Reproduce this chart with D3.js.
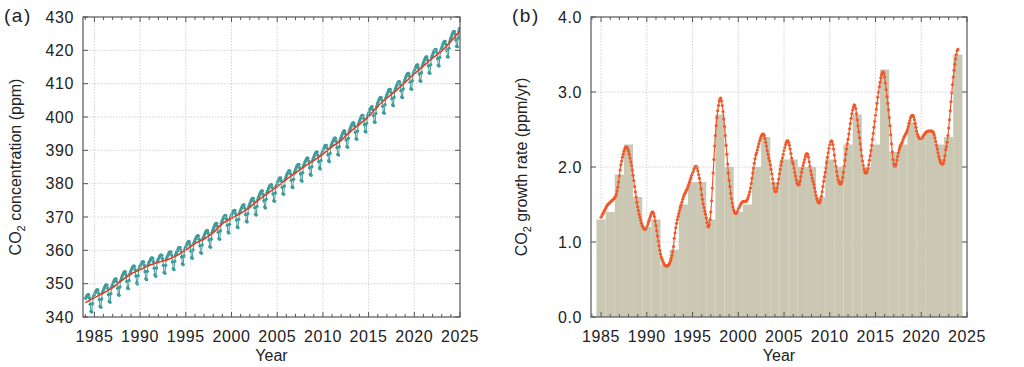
<!DOCTYPE html>
<html><head><meta charset="utf-8">
<script src="https://cdn.jsdelivr.net/npm/d3@7"></script>
<style>
body{margin:0;background:#fff}
svg{display:block}
text{font-family:"Liberation Sans",Arial,Helvetica,sans-serif;fill:#222}
</style>
</head><body>
<svg id="chart" width="1024" height="367"></svg>
<script>
// ---------------- DATA ----------------
// (a) monthly CO2 concentration (ppm), one row per year, Jan..Dec, starting 1984
const concStartYear = 1984;
const concRows = [
[345.6,346.1,346.5,346.7,346.7,345.7,343.8,341.7,341.5,344.0,345.9,346.5],
[347.1,347.6,348.0,348.2,348.1,347.1,345.2,343.2,342.9,345.4,347.3,347.9],
[348.5,349.0,349.4,349.7,349.6,348.6,346.7,344.7,344.4,347.0,348.9,349.5],
[350.1,350.7,351.2,351.4,351.4,350.5,348.6,346.7,346.5,349.0,351.0,351.7],
[352.3,352.8,353.3,353.6,353.5,352.6,350.7,348.7,348.5,351.0,353.0,353.6],
[354.2,354.7,355.1,355.3,355.2,354.2,352.3,350.2,349.9,352.4,354.3,355.0],
[355.5,356.0,356.4,356.6,356.5,355.5,353.6,351.5,351.2,353.7,355.6,356.3],
[356.7,357.2,357.6,357.8,357.6,356.6,354.6,352.6,352.2,354.7,356.6,357.2],
[357.6,358.1,358.5,358.6,358.5,357.5,355.5,353.4,353.1,355.5,357.4,358.0],
[358.5,359.0,359.4,359.6,359.5,358.5,356.5,354.5,354.2,356.7,358.6,359.2],
[359.7,360.2,360.7,360.9,360.8,359.9,358.0,356.0,355.7,358.3,360.2,360.8],
[361.4,361.9,362.4,362.7,362.6,361.7,359.8,357.8,357.6,360.1,362.1,362.7],
[363.3,363.8,364.2,364.4,364.3,363.3,361.4,359.4,359.1,361.6,363.5,364.1],
[364.7,365.2,365.7,366.0,365.9,365.0,363.1,361.1,360.9,363.4,365.4,366.0],
[366.6,367.2,367.8,368.1,368.1,367.2,365.4,363.5,363.3,365.9,368.0,368.7],
[369.3,369.8,370.2,370.5,370.4,369.4,367.5,365.5,365.2,367.8,369.7,370.3],
[370.9,371.4,371.8,372.0,372.0,371.0,369.1,367.0,366.8,369.3,371.2,371.8],
[372.4,372.9,373.4,373.6,373.6,372.6,370.7,368.7,368.5,371.0,373.0,373.6],
[374.2,374.8,375.3,375.6,375.6,374.7,372.8,370.8,370.6,373.2,375.2,375.9],
[376.5,377.1,377.5,377.8,377.8,376.8,374.9,373.0,372.7,375.3,377.3,377.9],
[378.5,379.0,379.5,379.8,379.7,378.8,376.9,374.9,374.7,377.2,379.2,379.8],
[380.4,381.0,381.5,381.7,381.7,380.8,378.9,377.0,376.8,379.3,381.3,382.0],
[382.6,383.1,383.6,383.9,383.8,382.9,381.0,379.0,378.8,381.3,383.3,383.9],
[384.5,385.1,385.5,385.8,385.8,384.8,382.9,381.0,380.7,383.3,385.3,385.9],
[386.5,387.0,387.5,387.7,387.6,386.7,384.8,382.8,382.5,385.1,387.0,387.6],
[388.2,388.8,389.2,389.5,389.5,388.5,386.6,384.7,384.4,387.0,389.0,389.6],
[390.2,390.8,391.3,391.5,391.5,390.6,388.7,386.8,386.6,389.1,391.1,391.8],
[392.4,392.9,393.4,393.7,393.6,392.7,390.8,388.8,388.6,391.1,393.1,393.7],
[394.3,394.9,395.4,395.8,395.8,394.9,393.1,391.1,390.9,393.6,395.6,396.3],
[396.9,397.5,398.0,398.2,398.2,397.3,395.4,393.5,393.3,395.8,397.8,398.5],
[399.1,399.7,400.2,400.5,400.5,399.6,397.7,395.7,395.5,398.1,400.1,400.8],
[401.4,402.1,402.6,403.0,403.1,402.2,400.4,398.5,398.4,401.1,403.1,403.9],
[404.5,405.1,405.6,405.9,405.9,405.1,403.2,401.3,401.1,403.7,405.7,406.4],
[407.0,407.6,408.1,408.3,408.3,407.4,405.5,403.6,403.4,405.9,407.9,408.6],
[409.2,409.8,410.3,410.6,410.6,409.8,407.9,406.0,405.8,408.4,410.4,411.1],
[411.7,412.3,412.8,413.1,413.1,412.3,410.4,408.5,408.3,410.9,412.9,413.6],
[414.2,414.8,415.3,415.6,415.6,414.7,412.9,410.9,410.7,413.3,415.3,416.0],
[416.6,417.2,417.7,418.0,418.0,417.1,415.3,413.3,413.1,415.7,417.7,418.4],
[419.0,419.6,420.0,420.3,420.3,419.4,417.5,415.5,415.3,417.9,419.8,420.5],
[421.1,421.8,422.3,422.7,422.7,421.8,420.0,418.1,418.0,420.6,422.6,423.4],
[424.0,424.7,425.3,425.6,425.7,424.9,423.1,421.2,421.1,423.7,425.8,426.6]
];

// (a) deseasonalized trend (ppm) at the start of each year
const trendYears  = [1984,1985,1986,1987,1988,1989,1990,1991,1992,1993,1994,1995,1996,1997,1998,1999,2000,2001,2002,2003,2004,2005,2006,2007,2008,2009,2010,2011,2012,2013,2014,2015,2016,2017,2018,2019,2020,2021,2022,2023,2024,2025];
const trendValues = [344.3,345.8,347.2,348.8,351.0,352.9,354.2,355.5,356.4,357.2,358.4,360.1,362.0,363.4,365.3,368.0,369.6,371.1,372.9,375.2,377.2,379.1,381.3,383.2,385.2,386.9,388.9,391.1,393.0,395.6,397.8,400.1,403.2,405.7,407.9,410.4,412.9,415.3,417.7,419.8,422.7,425.9];

// (b) annual growth rate bars (ppm/yr)
const barYears  = [1985,1986,1987,1988,1989,1990,1991,1992,1993,1994,1995,1996,1997,1998,1999,2000,2001,2002,2003,2004,2005,2006,2007,2008,2009,2010,2011,2012,2013,2014,2015,2016,2017,2018,2019,2020,2021,2022,2023,2024];
const barValues = [1.3,1.4,1.9,2.3,1.6,1.2,1.3,0.7,0.9,1.5,1.8,1.8,1.3,2.7,2.0,1.4,1.5,2.0,2.4,1.8,2.1,2.1,2.0,2.0,1.6,2.1,2.0,2.3,2.7,2.0,2.3,3.3,2.2,2.3,2.6,2.4,2.45,2.3,2.4,3.5];

// (b) monthly growth rate (ppm/yr), one row per year Jan..Dec, starting 1985 (last row: Jan 2024)
const rateStartYear = 1985;
const rateRows = [
[1.33,1.35,1.37,1.39,1.41,1.43,1.45,1.47,1.49,1.50,1.51,1.52],
[1.53,1.54,1.55,1.56,1.57,1.58,1.59,1.61,1.64,1.68,1.73,1.80],
[1.88,1.96,2.03,2.08,2.13,2.17,2.21,2.24,2.26,2.27,2.26,2.24],
[2.21,2.17,2.12,2.07,2.02,1.96,1.89,1.82,1.74,1.67,1.60,1.53],
[1.47,1.42,1.37,1.33,1.29,1.25,1.22,1.20,1.18,1.17,1.17,1.18],
[1.20,1.23,1.26,1.29,1.32,1.35,1.38,1.40,1.40,1.38,1.34,1.28],
[1.22,1.15,1.08,1.01,0.95,0.89,0.84,0.80,0.77,0.74,0.72,0.70],
[0.69,0.68,0.68,0.68,0.69,0.70,0.72,0.75,0.78,0.82,0.87,0.94],
[1.05,1.12,1.19,1.25,1.30,1.34,1.38,1.42,1.46,1.49,1.53,1.57],
[1.60,1.63,1.65,1.67,1.69,1.71,1.74,1.77,1.80,1.83,1.86,1.89],
[1.92,1.95,1.98,2.00,2.01,2.01,1.99,1.95,1.90,1.85,1.79,1.71],
[1.63,1.57,1.51,1.46,1.41,1.37,1.32,1.26,1.21,1.20,1.23,1.30],
[1.40,1.55,1.72,1.92,2.10,2.28,2.42,2.55,2.66,2.75,2.82,2.88],
[2.91,2.92,2.88,2.82,2.74,2.64,2.54,2.42,2.29,2.17,2.04,1.92],
[1.82,1.74,1.65,1.58,1.52,1.47,1.43,1.40,1.38,1.38,1.39,1.41],
[1.44,1.46,1.48,1.50,1.52,1.53,1.54,1.54,1.54,1.54,1.54,1.55],
[1.57,1.60,1.63,1.67,1.72,1.78,1.85,1.92,1.99,2.05,2.11,2.16],
[2.19,2.23,2.27,2.31,2.35,2.38,2.41,2.43,2.44,2.44,2.42,2.38],
[2.33,2.28,2.22,2.17,2.12,2.08,2.03,1.97,1.91,1.84,1.78,1.72],
[1.68,1.67,1.68,1.72,1.78,1.84,1.91,1.97,2.02,2.07,2.12,2.17],
[2.22,2.26,2.30,2.33,2.35,2.35,2.33,2.29,2.24,2.18,2.12,2.07],
[2.04,1.99,1.93,1.88,1.83,1.79,1.77,1.76,1.77,1.81,1.87,1.93],
[1.98,2.02,2.06,2.10,2.14,2.17,2.18,2.17,2.13,2.07,2.01,1.95],
[1.90,1.85,1.81,1.77,1.72,1.67,1.62,1.58,1.55,1.53,1.52,1.53],
[1.56,1.61,1.67,1.74,1.81,1.87,1.93,1.99,2.06,2.13,2.19,2.25],
[2.30,2.34,2.35,2.34,2.30,2.24,2.16,2.08,2.01,1.94,1.88,1.83],
[1.80,1.78,1.77,1.78,1.81,1.86,1.93,2.01,2.09,2.17,2.24,2.31],
[2.37,2.44,2.51,2.58,2.65,2.71,2.76,2.80,2.83,2.82,2.78,2.71],
[2.63,2.55,2.47,2.39,2.31,2.23,2.15,2.08,2.02,1.97,1.93,1.92],
[1.92,1.94,1.98,2.03,2.09,2.15,2.22,2.29,2.37,2.45,2.53,2.61],
[2.69,2.77,2.85,2.93,3.00,3.07,3.13,3.19,3.23,3.26,3.27,3.25],
[3.20,3.12,3.03,2.94,2.85,2.76,2.66,2.55,2.43,2.31,2.20,2.10],
[2.04,2.01,2.01,2.04,2.09,2.14,2.19,2.23,2.26,2.29,2.31,2.33],
[2.36,2.39,2.41,2.43,2.45,2.47,2.50,2.54,2.58,2.62,2.66,2.68],
[2.69,2.69,2.67,2.63,2.58,2.53,2.48,2.44,2.41,2.39,2.38,2.38],
[2.38,2.39,2.40,2.42,2.43,2.45,2.46,2.47,2.47,2.48,2.48,2.48],
[2.48,2.48,2.48,2.47,2.46,2.43,2.39,2.34,2.29,2.24,2.19,2.14],
[2.10,2.07,2.05,2.04,2.04,2.05,2.09,2.15,2.23,2.27,2.33,2.42],
[2.52,2.63,2.75,2.87,2.99,3.10,3.20,3.29,3.37,3.44,3.50,3.55],
[3.57]
];

// tick labels
const yearTicks = [1985,1990,1995,2000,2005,2010,2015,2020,2025];
const minorYearTicks = [1984,1985,1986,1987,1988,1989,1990,1991,1992,1993,1994,1995,1996,1997,1998,1999,2000,2001,2002,2003,2004,2005,2006,2007,2008,2009,2010,2011,2012,2013,2014,2015,2016,2017,2018,2019,2020,2021,2022,2023,2024,2025];
const concTicks = [340,350,360,370,380,390,400,410,420,430];
const rateTicks = [0,1,2,3,4];

// ---------------- DRAW ----------------
const svg = d3.select("#chart");
const FS = 16;

function panel(o){
  const g = svg.append("g");
  const x = d3.scaleLinear().domain(o.xDomain).range([o.left,o.right]);
  const y = d3.scaleLinear().domain(o.yDomain).range([o.bottom,o.top]);
  const clipId = "clip"+o.id;
  svg.append("clipPath").attr("id",clipId).append("rect")
     .attr("x",o.left).attr("y",o.top).attr("width",o.right-o.left).attr("height",o.bottom-o.top);

  // bars first (below grid in panel b, grid visible on top)
  const content = g.append("g").attr("clip-path",`url(#${clipId})`);
  if(o.bars){
    content.selectAll("rect.bar").data(o.bars).enter().append("rect")
      .attr("x",d=>x(d.year-0.5)).attr("width",d=>x(d.year+0.5)-x(d.year-0.5))
      .attr("y",d=>y(d.v)).attr("height",d=>y(0)-y(d.v))
      .attr("fill","#cac7b3");
  }
  // grid
  const grid = g.append("g").attr("stroke","#c8c8c8").attr("stroke-width",0.8).attr("stroke-dasharray","1.5,1.5");
  yearTicks.forEach(t=>{ if(x(t)<o.right-1) grid.append("line").attr("x1",x(t)).attr("x2",x(t)).attr("y1",o.top).attr("y2",o.bottom); });
  o.yTicks.forEach(t=>{ if(y(t)>o.top+1 && y(t)<o.bottom-1) grid.append("line").attr("x1",o.left).attr("x2",o.right).attr("y1",y(t)).attr("y2",y(t)); });

  o.drawData(content,x,y);

  // frame
  g.append("rect").attr("x",o.left).attr("y",o.top).attr("width",o.right-o.left).attr("height",o.bottom-o.top)
    .attr("fill","none").attr("stroke","#555").attr("stroke-width",1.2);
  // ticks
  const tk = g.append("g").attr("stroke","#555").attr("stroke-width",1);
  minorYearTicks.forEach(t=>{
    const xx = x(t); if(xx<o.left||xx>o.right) return;
    const L = yearTicks.includes(t)?5:3;
    tk.append("line").attr("x1",xx).attr("x2",xx).attr("y1",o.bottom).attr("y2",o.bottom-L);
    tk.append("line").attr("x1",xx).attr("x2",xx).attr("y1",o.top).attr("y2",o.top+L);
  });
  o.yTicks.forEach(t=>{
    tk.append("line").attr("x1",o.left).attr("x2",o.left+5).attr("y1",y(t)).attr("y2",y(t));
    tk.append("line").attr("x1",o.right).attr("x2",o.right-5).attr("y1",y(t)).attr("y2",y(t));
  });
  // tick labels
  yearTicks.forEach(t=>{
    g.append("text").attr("x",x(t)).attr("y",o.bottom+25).attr("text-anchor","middle")
     .attr("font-size",FS).attr("letter-spacing",0.6).text(t);
  });
  o.yTicks.forEach(t=>{
    g.append("text").attr("x",o.left-9).attr("y",y(t)).attr("dy","0.36em").attr("text-anchor","end")
     .attr("font-size",FS).attr("letter-spacing",0.6).text(o.yFmt(t));
  });
  // axis titles
  g.append("text").attr("x",(o.left+o.right)/2).attr("y",361).attr("text-anchor","middle")
   .attr("font-size",FS).text("Year");
  const yt = g.append("text").attr("transform",`translate(${o.yTitleX},${(o.top+o.bottom)/2}) rotate(-90)`)
   .attr("text-anchor","middle").attr("font-size",FS);
  yt.append("tspan").text("CO");
  yt.append("tspan").attr("font-size",11).attr("dy",4).text("2");
  yt.append("tspan").attr("dy",-4).text(o.yTitleRest);
  // panel letter
  g.append("text").attr("x",o.letterX).attr("y",22).attr("font-size",19).attr("letter-spacing",1.5).text(o.letter);
}

const concPts = concRows.flatMap((row,i)=>row.map((v,m)=>({t:concStartYear+i+(m+0.5)/12, v})));
const trendPts = trendYears.map((t,i)=>({t, v:trendValues[i]}));
const ratePts = rateRows.flatMap((row,i)=>row.map((v,m)=>({t:rateStartYear+i+m/12, v})));
const bars = barYears.map((year,i)=>({year, v:barValues[i]}));

panel({
  id:"a", left:83, right:460, top:17, bottom:317,
  xDomain:[1983.75,2025], yDomain:[340,430], yTicks:concTicks, yFmt:d=>d,
  yTitleX:21, yTitleRest:" concentration (ppm)", letter:"(a)", letterX:4,
  drawData:(c,x,y)=>{
    c.append("path").datum(concPts).attr("fill","none").attr("stroke","#3f9c9a").attr("stroke-width",1)
      .attr("d",d3.line().x(d=>x(d.t)).y(d=>y(d.v)));
    c.selectAll("circle.m").data(concPts).enter().append("circle")
      .attr("cx",d=>x(d.t)).attr("cy",d=>y(d.v)).attr("r",1.7).attr("fill","#3f9c9a");
    c.append("path").datum(trendPts).attr("fill","none").attr("stroke","#e8391f").attr("stroke-width",1.6)
      .attr("d",d3.line().curve(d3.curveMonotoneX).x(d=>x(d.t)).y(d=>y(d.v)));
  }
});

panel({
  id:"b", left:591, right:967, top:17, bottom:317,
  xDomain:[1983.9,2025], yDomain:[0,4], yTicks:rateTicks, yFmt:d=>d.toFixed(1),
  yTitleX:527, yTitleRest:" growth rate (ppm/yr)", letter:"(b)", letterX:512,
  bars:bars,
  drawData:(c,x,y)=>{
    c.append("path").datum(ratePts).attr("fill","none").attr("stroke","#f0592a").attr("stroke-width",1.2)
      .attr("d",d3.line().x(d=>x(d.t)).y(d=>y(d.v)));
    c.selectAll("circle.r").data(ratePts).enter().append("circle")
      .attr("cx",d=>x(d.t)).attr("cy",d=>y(d.v)).attr("r",1.6).attr("fill","#f0592a");
  }
});
</script>
</body></html>
